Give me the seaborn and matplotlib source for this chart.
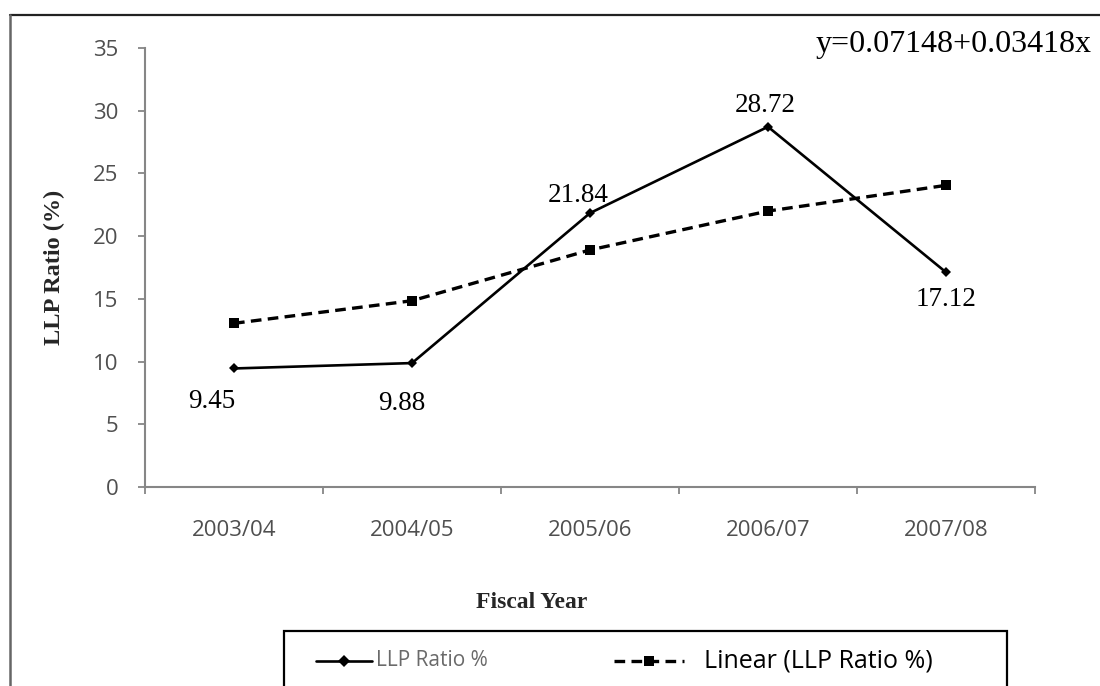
import matplotlib
matplotlib.use("Agg")
import matplotlib.pyplot as plt
from matplotlib.lines import Line2D
from matplotlib.patches import Rectangle
import pandas as pd
import seaborn as sns

# Loan-loss provision ratio by fiscal year
years = ["2003/04", "2004/05", "2005/06", "2006/07", "2007/08"]
llp_ratio = [9.45, 9.88, 21.84, 28.72, 17.12]
trend_line = [13.05, 14.85, 18.9, 22.0, 24.05]
value_labels = ["9.45", "9.88", "21.84", "28.72", "17.12"]
y_ticks = [0, 5, 10, 15, 20, 25, 30, 35]
equation = "y=0.07148+0.03418x"

# label offsets from each point, in pixels (dx, dy)
label_offsets = [(-22, -40), (-10, -47), (-12, 11), (-3, 15), (0, -34)]

sns.set_theme(style="white")
plt.rcParams["font.family"] = ["Open Sans", "DejaVu Sans"]

W, H = 1100, 686
fig = plt.figure(figsize=(W / 100, H / 100), dpi=100)
fig.patch.set_facecolor("white")
ax = fig.add_axes([145 / W, 1 - 487 / H, 890 / W, 439 / H])
ax.set_facecolor("white")

df = pd.DataFrame({"year": years, "ratio": llp_ratio, "trend": trend_line})

sns.lineplot(data=df, x="year", y="ratio", ax=ax, sort=False, color="black",
             linewidth=1.9, marker="D", markersize=5, markeredgewidth=0)
sns.lineplot(data=df, x="year", y="trend", ax=ax, sort=False, color="black",
             linewidth=2.4, linestyle=(0, (3.2, 1.9)), marker="s", markersize=7,
             markeredgewidth=0)

serif = ["Liberation Serif", "DejaVu Serif"]
for i, (v, lab) in enumerate(zip(llp_ratio, value_labels)):
    dx, dy = label_offsets[i]
    ax.annotate(lab, (i, v), xytext=(dx, dy), textcoords="offset pixels",
                ha="center", va="baseline", fontsize=19.5, family=serif,
                color="black")

ax.set_xlim(-0.5, len(years) - 0.5)
ax.set_ylim(0, 35)
ax.set_yticks(y_ticks)
ax.set_xticks(range(len(years)))
ax.set_xticklabels(years)
ax.set_xticks([i - 0.5 for i in range(len(years) + 1)], minor=True)

axis_grey = "#868686"
label_grey = "#4f4f4f"
for side in ["top", "right"]:
    ax.spines[side].set_visible(False)
for side in ["left", "bottom"]:
    ax.spines[side].set_color(axis_grey)
    ax.spines[side].set_linewidth(1.5)

ax.tick_params(axis="y", which="major", direction="out", length=5, width=1.3,
               color=axis_grey, labelcolor=label_grey, labelsize=16, pad=14,
               left=True)
ax.tick_params(axis="x", which="major", length=0, labelcolor=label_grey,
               labelsize=16, pad=24, bottom=True)
ax.tick_params(axis="x", which="minor", direction="out", length=5, width=1.3,
               color=axis_grey, bottom=True)

ax.set_xlabel("Fiscal Year", family=serif, fontweight="bold", fontsize=17)
ax.xaxis.set_label_coords(0.434, -0.24)
ax.xaxis.label.set_va("top")
ax.set_ylabel("LLP Ratio (%)", family=serif, fontweight="bold", fontsize=17.5)
ax.yaxis.set_label_coords(-0.09, 0.5)

fig.text(1092 / W, 1 - 52 / H, equation, ha="right", va="baseline",
         fontsize=23, family=serif, color="black")

# outer frame (runs off the right and bottom edges)
fig.add_artist(Line2D([10 / W, 1.0], [1 - 15 / H] * 2, color="#222222", lw=1.6,
                      transform=fig.transFigure))
fig.add_artist(Line2D([10 / W] * 2, [0.0, 1 - 15 / H], color="#666666", lw=1.8,
                      transform=fig.transFigure))

# legend box
fig.add_artist(Rectangle((284 / W, 1 - 700 / H), (1007 - 284) / W, (700 - 631) / H,
                         transform=fig.transFigure, fill=False,
                         edgecolor="black", lw=1.6, clip_on=False))
ly = 1 - 661 / H
fig.add_artist(Line2D([316 / W, 372 / W], [ly, ly], color="black", lw=1.9,
                      transform=fig.transFigure))
fig.add_artist(Line2D([344 / W], [ly], color="black", marker="D", markersize=6,
                      markeredgewidth=0, transform=fig.transFigure))
fig.text(376 / W, ly, "LLP Ratio %", ha="left", va="center", fontsize=15,
         color="#6a6a6a")
fig.add_artist(Line2D([614 / W, 684 / W], [ly, ly], color="black", lw=2.4,
                      linestyle=(0, (3.2, 1.9)), transform=fig.transFigure))
fig.add_artist(Line2D([649 / W], [ly], color="black", marker="s", markersize=7,
                      markeredgewidth=0, transform=fig.transFigure))
fig.text(704 / W, ly, "Linear (LLP Ratio %)", ha="left", va="center",
         fontsize=18, color="black")

fig.savefig("out.png", dpi=100)
